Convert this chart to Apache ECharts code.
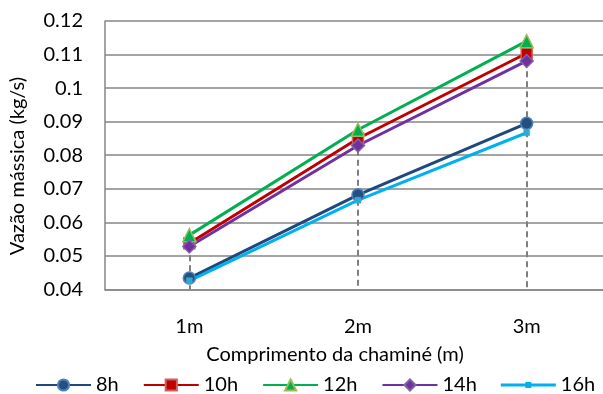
<!DOCTYPE html>
<html><head><meta charset="utf-8">
<script src="https://cdn.jsdelivr.net/npm/echarts@6/dist/echarts.min.js"></script>
<style>html,body{margin:0;padding:0;background:#fff}#c{width:603px;height:394px}</style>
</head><body><div id="c"></div>
<script>
const categories = ['1m', '2m', '3m'];
const s8h  = [0.0434, 0.0682, 0.0895];
const s10h = [0.0538, 0.0850, 0.1104];
const s12h = [0.0562, 0.0876, 0.1140];
const s14h = [0.0528, 0.0829, 0.1081];
const s16h = [0.0426, 0.0666, 0.0867];
const yTicks = {min: 0.04, max: 0.12, interval: 0.01};

const FONT = 'Lato';
const FS = 20;
const all = [s8h, s10h, s12h, s14h, s16h];
const dropData = categories.map((c, i) => [
  {xAxis: c, yAxis: Math.max(...all.map(a => a[i]))},
  {xAxis: c, yAxis: yTicks.min}
]);

function ser(name, data, color, symbol, size, fill, border, bw) {
  return {
    name, type: 'line', data, symbol, symbolSize: size,
    lineStyle: {color, width: 3}, itemStyle: {color: fill, borderColor: border, borderWidth: bw},
    color, z: 3
  };
}
const series = [
  ser('8h', s8h, '#1F497D', 'circle', 12, '#24507F', '#4F81BD', 1.5),
  ser('10h', s10h, '#C00000', 'rect', 11, '#C00000', '#D06060', 1.5),
  ser('12h', s12h, '#00B050', 'triangle', 13, '#00B050', '#9BBB59', 1.5),
  ser('14h', s14h, '#7030A0', 'diamond', 13, '#7030A0', '#8064A2', 1.5),
  ser('16h', s16h, '#00B0F0', 'rect', 6, '#2DA8D8', '#4BACC6', 0.5)
];
series[0].markLine = {
  silent: true, symbol: 'none', label: {show: false},
  lineStyle: {color: '#7F7F7F', type: [6, 4], width: 2},
  data: dropData, z: 1
};

const chart = echarts.init(document.getElementById('c'), null, {renderer: 'canvas'});
chart.setOption({
  animation: false,
  textStyle: {fontFamily: FONT},
  title: [{
    text: 'Comprimento da chaminé (m)', left: 330, top: 340, textAlign: 'center',
    textStyle: {fontFamily: FONT, fontSize: FS, fontWeight: 'normal', color: '#000'}
  }],
  graphic: [{
    type: 'text', x: 18, y: 166, rotation: Math.PI / 2,
    style: {text: 'Vazão mássica (kg/s)', font: FS + 'px ' + FONT, fill: '#000', align: 'center', verticalAlign: 'middle'}
  }],
  grid: {left: 105, top: 21, width: 506, height: 268.5, outerBoundsMode: 'none', containLabel: false},
  legend: {
    left: 35, top: 375, itemWidth: 55, itemHeight: 14, itemGap: 24, padding: 0,
    textStyle: {fontFamily: FONT, fontSize: FS, color: '#000'},
    data: ['8h', '10h', '12h', '14h',
      {name: '16h', icon: 'path://M0,0M55,14M0,5.5H55V8.5H0Z M24.5,4H30.5V10H24.5Z',
       itemStyle: {color: '#00B0F0', borderWidth: 0}, lineStyle: {width: 0}}]
  },
  xAxis: {
    type: 'category', data: categories, boundaryGap: true,
    axisLine: {lineStyle: {color: '#868686', width: 1.5}},
    axisTick: {show: false},
    axisLabel: {fontFamily: FONT, fontSize: FS, color: '#000', margin: 27}
  },
  yAxis: {
    type: 'value', min: yTicks.min, max: yTicks.max, interval: yTicks.interval,
    axisLine: {show: true, lineStyle: {color: '#868686', width: 1.5}},
    axisTick: {show: false},
    splitLine: {lineStyle: {color: '#868686', width: 1.5}},
    axisLabel: {fontFamily: FONT, fontSize: FS, color: '#000', margin: 22}
  },
  series
});
</script></body></html>
